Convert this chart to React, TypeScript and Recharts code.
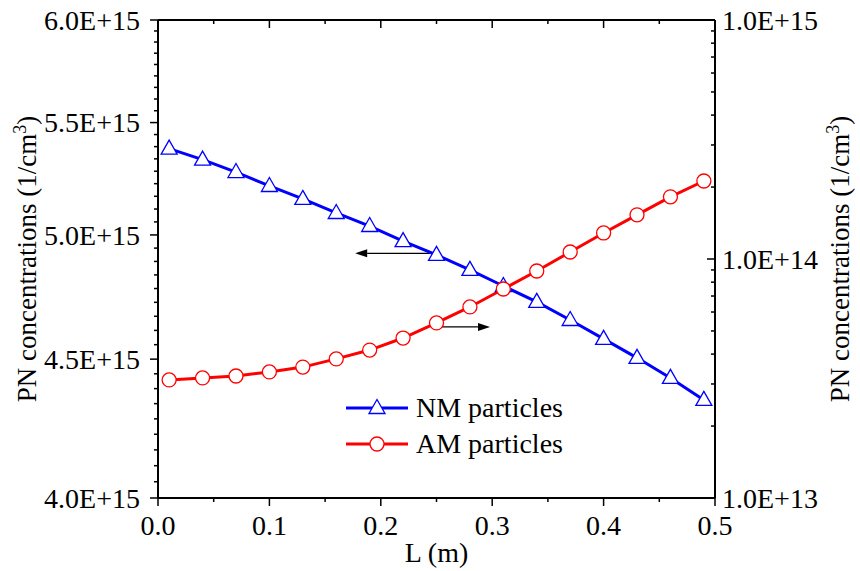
import React from 'react';
import { ComposedChart, Line, XAxis, YAxis, ReferenceLine, Legend } from 'recharts';

// ---- data ----
const lengths = [0.01, 0.04, 0.07, 0.1, 0.13, 0.16, 0.19, 0.22, 0.25, 0.28, 0.31, 0.34, 0.37, 0.4, 0.43, 0.46, 0.49];
const nmParticles = [5.38e15, 5.33e15, 5.274e15, 5.212e15, 5.155e15, 5.094e15, 5.038e15, 4.974e15, 4.916e15, 4.854e15, 4.788e15, 4.724e15, 4.652e15, 4.578e15, 4.505e15, 4.429e15, 4.347e15];
const amParticles = [3.12e13, 3.18e13, 3.24e13, 3.37e13, 3.53e13, 3.82e13, 4.16e13, 4.67e13, 5.4e13, 6.3e13, 7.49e13, 8.91e13, 1.07e14, 1.285e14, 1.53e14, 1.82e14, 2.12e14];

const xMajorTicks = [0, 0.1, 0.2, 0.3, 0.4, 0.5];
const xMinorTicks = [0.05, 0.15, 0.25, 0.35, 0.45];
const leftMajorTicks = [4.0e15, 4.5e15, 5.0e15, 5.5e15, 6.0e15];
const rightMajorTicks = [1e13, 1e14, 1e15];

const leftArrow = [{ x: 0.244, y: 4.9225e15 }, { x: 0.177, y: 4.9225e15 }];
const rightArrow = [{ x: 0.249, y: 5.2e13 }, { x: 0.298, y: 5.2e13 }];

const seriesOrder = ['nm', 'am'];
const seriesNames = { nm: 'NM particles', am: 'AM particles' };

// ---- helpers ----
const FONT = 'Liberation Serif';
const FS = 28;
const LABEL_FS = 27;

const linearMinors = (majors: number[], count: number) => {
  const out: number[] = [];
  for (let i = 0; i < majors.length - 1; i++) {
    const a = majors[i];
    const b = majors[i + 1];
    for (let j = 1; j <= count; j++) out.push(a + ((b - a) * j) / (count + 1));
  }
  return out;
};
const decadeMinors = (majors: number[]) => {
  const out: number[] = [];
  for (let i = 0; i < majors.length - 1; i++) {
    for (let k = 2; k <= 9; k++) out.push(majors[i] * k);
  }
  return out;
};

const leftTicks = [...leftMajorTicks, ...linearMinors(leftMajorTicks, 8)].sort((a, b) => a - b);
const rightTicks = [...rightMajorTicks, ...decadeMinors(rightMajorTicks)].sort((a, b) => a - b);
const xTicks = [...xMajorTicks, ...xMinorTicks].sort((a, b) => a - b);

const isMajor = (v: number, majors: number[]) => majors.some((m) => Math.abs(m - v) <= Math.abs(m) * 1e-6 + 1e-9);
const expLabel = (v: number) => v.toExponential(1).toUpperCase();

const data = lengths.map((L, i) => ({ L, nm: nmParticles[i], am: amParticles[i] }));

const MAJ = 8;
const MIN = 4;
const TW = 1.5;
const textStyle = { fontFamily: FONT, fontSize: FS };
const labelStyle = { fontFamily: FONT, fontSize: LABEL_FS };

const BottomTick = (props: any) => {
  const { x, y, payload } = props;
  const major = isMajor(payload.value, xMajorTicks);
  return (
    <g>
      <line x1={x} y1={y} x2={x} y2={y + (major ? MAJ : MIN)} stroke="#000" strokeWidth={TW} />
      {major && (
        <text x={x} y={y + 37} textAnchor="middle" style={textStyle} fill="#000">
          {payload.value.toFixed(1)}
        </text>
      )}
    </g>
  );
};

const TopTick = (props: any) => {
  const { x, y, payload } = props;
  const major = isMajor(payload.value, xMajorTicks);
  return <line x1={x} y1={y} x2={x} y2={y + (major ? MAJ : MIN)} stroke="#000" strokeWidth={TW} />;
};

const LeftTick = (props: any) => {
  const { x, y, payload } = props;
  const major = isMajor(payload.value, leftMajorTicks);
  return (
    <g>
      <line x1={x} y1={y} x2={x - (major ? MAJ : MIN)} y2={y} stroke="#000" strokeWidth={TW} />
      {major && (
        <text x={x - 18} y={y} dy="0.35em" textAnchor="end" style={textStyle} fill="#000">
          {expLabel(payload.value)}
        </text>
      )}
    </g>
  );
};

const RightTick = (props: any) => {
  const { x, y, payload } = props;
  const major = isMajor(payload.value, rightMajorTicks);
  return (
    <g>
      <line x1={x} y1={y} x2={x - (major ? MAJ : MIN)} y2={y} stroke="#000" strokeWidth={TW} />
      {major && (
        <text x={x + 7} y={y} dy="0.35em" textAnchor="start" style={textStyle} fill="#000">
          {expLabel(payload.value)}
        </text>
      )}
    </g>
  );
};

const makeYLabel = (offsetX: number) => (props: any) => {
  const vb = props.viewBox || {};
  const cx = vb.x + offsetX;
  const cy = vb.y + vb.height / 2;
  return (
    <text
      x={cx}
      y={cy}
      dy="0.35em"
      transform={`rotate(-90, ${cx}, ${cy})`}
      textAnchor="middle"
      style={labelStyle}
      fill="#000"
    >
      PN concentrations (1/cm
      <tspan dy={-10} style={{ fontSize: 18 }}>3</tspan>
      <tspan dy={10}>)</tspan>
    </text>
  );
};

const XLabel = (props: any) => {
  const vb = props.viewBox || {};
  return (
    <text x={vb.x + vb.width / 2} y={vb.y + 64} textAnchor="middle" style={textStyle} fill="#000">
      L (m)
    </text>
  );
};

const Triangle = (props: any) => {
  const { cx, cy, index } = props;
  if (cx == null || cy == null) return <g key={`t-${index}`} />;
  return (
    <path
      key={`t-${index}`}
      d={`M${cx},${cy - 8.5} L${cx + 8},${cy + 5.5} L${cx - 8},${cy + 5.5} Z`}
      fill="#fff"
      stroke="#0000FF"
      strokeWidth={1.3}
    />
  );
};

const Circle = (props: any) => {
  const { cx, cy, index } = props;
  if (cx == null || cy == null) return <g key={`c-${index}`} />;
  return <circle key={`c-${index}`} cx={cx} cy={cy} r={7} fill="#fff" stroke="#FF0000" strokeWidth={1.3} />;
};

const arrowShape = (props: any) => {
  const { x1, y1, x2, y2 } = props;
  const dx = x2 - x1;
  const dy = y2 - y1;
  const len = Math.hypot(dx, dy) || 1;
  const ux = dx / len;
  const uy = dy / len;
  const hl = 12;
  const hw = 4;
  const bx = x2 - ux * hl;
  const by = y2 - uy * hl;
  return (
    <g>
      <line x1={x1} y1={y1} x2={bx} y2={by} stroke="#000" strokeWidth={1.2} />
      <polygon points={`${x2},${y2} ${bx - uy * hw},${by + ux * hw} ${bx + uy * hw},${by - ux * hw}`} fill="#000" />
    </g>
  );
};

const LegendContent = (props: any) => {
  const payload = [...(props.payload || [])].sort(
    (a: any, b: any) => seriesOrder.indexOf(a.dataKey) - seriesOrder.indexOf(b.dataKey)
  );
  return (
    <div style={{ fontFamily: FONT, fontSize: FS, color: '#000' }}>
      {payload.map((p: any) => (
        <div key={p.value} style={{ display: 'flex', alignItems: 'center', height: 36 }}>
          <svg width={62} height={20} style={{ display: 'block' }}>
            <line x1={0} y1={10} x2={62} y2={10} stroke={p.color} strokeWidth={3} />
            {p.dataKey === 'nm' ? (
              <path d="M31,1.5 L39,15.5 L23,15.5 Z" fill="#fff" stroke={p.color} strokeWidth={1.3} />
            ) : (
              <circle cx={31} cy={10} r={7} fill="#fff" stroke={p.color} strokeWidth={1.3} />
            )}
          </svg>
          <span style={{ marginLeft: 8, whiteSpace: 'nowrap', fontFamily: FONT }}>{p.value}</span>
        </div>
      ))}
    </div>
  );
};

export default function App() {
  return (
    <div style={{ position: 'absolute', left: 0, top: 0, background: '#fff', fontFamily: FONT }}>
      <ComposedChart width={860} height={571} data={data} margin={{ top: 19, right: 0, bottom: 0, left: 0 }}>
        <XAxis
          xAxisId="bottom"
          dataKey="L"
          type="number"
          domain={[0, 0.5]}
          ticks={xTicks}
          interval={0}
          height={73}
          tickSize={0}
          tickMargin={0}
          tickLine={false}
          tick={BottomTick}
          axisLine={{ stroke: '#000', strokeWidth: 2 }}
          allowDataOverflow
          label={{ content: XLabel }}
        />
        <XAxis
          xAxisId="top"
          orientation="top"
          dataKey="L"
          type="number"
          domain={[0, 0.5]}
          ticks={xTicks}
          interval={0}
          height={1}
          tickSize={0}
          tickMargin={0}
          tickLine={false}
          tick={TopTick}
          axisLine={{ stroke: '#000', strokeWidth: 2 }}
          allowDataOverflow
        />
        <YAxis
          yAxisId="left"
          orientation="left"
          type="number"
          scale="log"
          domain={[4e15, 6e15]}
          ticks={leftTicks}
          interval={0}
          width={158}
          tickSize={0}
          tickMargin={0}
          tickLine={false}
          tick={LeftTick}
          axisLine={{ stroke: '#000', strokeWidth: 2 }}
          allowDataOverflow
          label={{ content: makeYLabel(27) }}
        />
        <YAxis
          yAxisId="right"
          orientation="right"
          type="number"
          scale="log"
          domain={[1e13, 1e15]}
          ticks={rightTicks}
          interval={0}
          width={145}
          tickSize={0}
          tickMargin={0}
          tickLine={false}
          tick={RightTick}
          axisLine={{ stroke: '#000', strokeWidth: 2 }}
          allowDataOverflow
          label={{ content: makeYLabel(125) }}
        />
        <ReferenceLine xAxisId="bottom" yAxisId="left" segment={leftArrow} shape={arrowShape} />
        <ReferenceLine xAxisId="bottom" yAxisId="right" segment={rightArrow} shape={arrowShape} />
        <Line
          xAxisId="bottom"
          yAxisId="left"
          dataKey="nm"
          name={seriesNames.nm}
          stroke="#0000FF"
          strokeWidth={3}
          dot={Triangle}
          isAnimationActive={false}
        />
        <Line
          xAxisId="bottom"
          yAxisId="right"
          dataKey="am"
          name={seriesNames.am}
          stroke="#FF0000"
          strokeWidth={3}
          dot={Circle}
          isAnimationActive={false}
        />
        <Legend
          layout="horizontal"
          verticalAlign="middle"
          align="center"
          content={LegendContent}
          wrapperStyle={{ position: 'absolute', left: 346, top: 390, width: 260, height: 80 }}
        />
      </ComposedChart>
    </div>
  );
}
